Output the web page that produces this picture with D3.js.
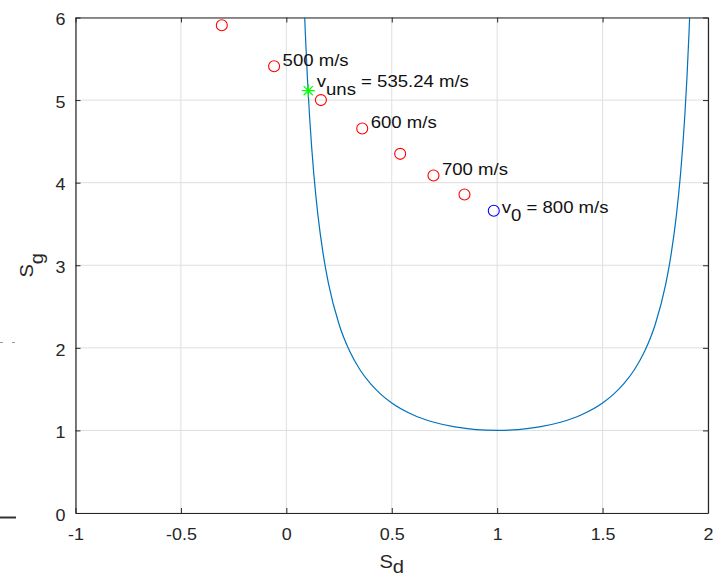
<!DOCTYPE html>
<html>
<head>
<meta charset="utf-8">
<script src="https://cdn.jsdelivr.net/npm/d3@7"></script>
<style>
    body { margin: 0; background: #fff; }
    svg { display: block; font-family: "Liberation Sans", Arial, Helvetica, sans-serif; }
    .tick text { font-size: 16px; fill: #262626; }
    .note { font-size: 16px; fill: #111; }
    .axis-label { font-size: 18px; fill: #262626; }
</style>
</head>
<body>
<svg id="chart"></svg>
<script>
// stability boundary Sg vs Sd, plus the trajectory points

// boundary curve
const curveSd = [0.087, 0.09, 0.10, 0.11, 0.12, 0.13, 0.15, 0.175, 0.20, 0.25, 0.30, 0.35, 0.40, 0.45, 0.50,
    0.60, 0.70, 0.80, 0.90, 1.00, 1.10, 1.20, 1.30, 1.40, 1.50, 1.55, 1.60, 1.65, 1.70, 1.75,
    1.80, 1.825, 1.85, 1.87, 1.88, 1.89, 1.90, 1.91, 1.913]
const curveSg = [6.009, 5.817, 5.263, 4.810, 4.433, 4.113, 3.604, 3.131, 2.778, 2.286, 1.961, 1.732, 1.563, 1.434, 1.333,
    1.190, 1.099, 1.042, 1.010, 1.000, 1.010, 1.042, 1.099, 1.190, 1.333, 1.434, 1.563, 1.732, 1.961, 2.286,
    2.778, 3.131, 3.604, 4.113, 4.433, 4.810, 5.263, 5.817, 6.009]

// red circles (450 ... 750 m/s)
const pointSd = [-0.306, -0.058, 0.164, 0.360, 0.540, 0.698, 0.845]
const pointSg = [5.907, 5.410, 5.000, 4.655, 4.349, 4.087, 3.857]
const pointLabels = ['', '500 m/s', '', '600 m/s', '', '700 m/s', '']

// muzzle velocity point and the unstable velocity point
const v0Sd = [0.984]
const v0Sg = [3.660]
const unsSd = [0.104]
const unsSg = [5.114]

const xTicks = [-1, -0.5, 0, 0.5, 1, 1.5, 2]
const yTicks = [0, 1, 2, 3, 4, 5, 6]

const W = 715
const H = 580
let margin = { top: 17.5, right: 7, bottom: 67, left: 75.5 }
const width = W - margin.left - margin.right
const height = H - margin.top - margin.bottom
const axisColor = '#262626'

let x = d3.scaleLinear().domain([-1, 2]).range([0, width])
let y = d3.scaleLinear().domain([0, 6]).range([height, 0])

// the reference glyphs are a bit wider than Liberation Sans, stretch in place
function widen(sel, k) {
    sel.each(function () {
        let px = +this.getAttribute('x') || 0
        d3.select(this).attr('transform', `translate(${px * (1 - k)},0) scale(${k},1)`)
    })
}

let svg = d3.select('#chart')
    .attr('width', W)
    .attr('height', H)

// leftovers from the neighbouring figure at the left edge
svg.append('line')
    .attr('x1', 0).attr('x2', 16).attr('y1', 517.5).attr('y2', 517.5)
    .style('stroke', '#333').style('stroke-width', 2)
svg.append('line')
    .attr('x1', 0).attr('x2', 16).attr('y1', 342.5).attr('y2', 342.5)
    .style('stroke', '#999').style('stroke-width', 1)
    .style('stroke-dasharray', '3 9')

let g = svg.append('g')
    .attr('transform', `translate(${margin.left},${margin.top})`)

g.append('clipPath')
    .attr('id', 'plot-clip')
    .append('rect')
    .attr('width', width)
    .attr('height', height)

// grid
g.append('g')
    .selectAll('line')
    .data(xTicks)
    .join('line')
    .attr('x1', d => x(d)).attr('x2', d => x(d))
    .attr('y1', 0).attr('y2', height)
    .style('stroke', '#dfdfdf')
g.append('g')
    .selectAll('line')
    .data(yTicks)
    .join('line')
    .attr('x1', 0).attr('x2', width)
    .attr('y1', d => y(d)).attr('y2', d => y(d))
    .style('stroke', '#dfdfdf')

// axes, ticks pointing inwards on all four sides
const fmt = d => d3.format('')(d).replace('\u2212', '-')
let xAxis = g.append('g')
    .attr('transform', `translate(0,${height})`)
    .call(d3.axisBottom(x).tickValues(xTicks).tickFormat(fmt).tickSizeInner(-5).tickSizeOuter(0).tickPadding(16))
let yAxis = g.append('g')
    .call(d3.axisLeft(y).tickValues(yTicks).tickFormat(fmt).tickSizeInner(-5).tickSizeOuter(0).tickPadding(10))
let topAxis = g.append('g')
    .call(d3.axisTop(x).tickValues(xTicks).tickFormat('').tickSizeInner(-5).tickSizeOuter(0))
let rightAxis = g.append('g')
    .attr('transform', `translate(${width},0)`)
    .call(d3.axisRight(y).tickValues(yTicks).tickFormat('').tickSizeInner(-5).tickSizeOuter(0))

g.selectAll('.domain').style('stroke', axisColor).style('stroke-width', 1.2)
g.selectAll('.tick line').style('stroke', axisColor)
xAxis.selectAll('text').attr('dy', '0.71em')
yAxis.selectAll('text').attr('dy', '0.45em')
widen(xAxis.selectAll('text'), 1.12)
widen(yAxis.selectAll('text'), 1.12)

// boundary curve
let line = d3.line()
    .x(d => x(d[0]))
    .y(d => y(d[1]))
    .curve(d3.curveMonotoneX)

g.append('path')
    .datum(d3.zip(curveSd, curveSg))
    .attr('clip-path', 'url(#plot-clip)')
    .attr('d', line)
    .style('fill', 'none')
    .style('stroke', '#0072BD')
    .style('stroke-width', 1.2)

// red circles
g.append('g')
    .selectAll('circle')
    .data(d3.zip(pointSd, pointSg))
    .join('circle')
    .attr('cx', d => x(d[0]))
    .attr('cy', d => y(d[1]))
    .attr('r', 5.5)
    .style('fill', 'none')
    .style('stroke', '#ff0000')
    .style('stroke-width', 1.1)

let notes = g.append('g')
    .selectAll('text')
    .data(d3.zip(pointSd, pointSg, pointLabels).filter(d => d[2] !== ''))
    .join('text')
    .attr('class', 'note')
    .attr('x', d => x(d[0]) + 8.5)
    .attr('y', d => y(d[1]) - 0.5)
    .text(d => d[2])
widen(notes, 1.16)

// blue circle: v0
g.append('circle')
    .attr('cx', x(v0Sd[0]))
    .attr('cy', y(v0Sg[0]))
    .attr('r', 5.5)
    .style('fill', 'none')
    .style('stroke', '#0000ff')
    .style('stroke-width', 1.1)

// green asterisk: v_uns
let star = d3.path()
const a = 6.5
const b = 4.6
star.moveTo(-a, 0); star.lineTo(a, 0)
star.moveTo(0, -a); star.lineTo(0, a)
star.moveTo(-b, -b); star.lineTo(b, b)
star.moveTo(-b, b); star.lineTo(b, -b)

g.append('path')
    .attr('transform', `translate(${x(unsSd[0])},${y(unsSg[0])})`)
    .attr('d', star.toString())
    .style('stroke', '#00ff00')
    .style('stroke-width', 1.2)

function subLabel(px, py, main, sub, rest) {
    let t = g.append('text')
        .attr('class', 'note')
        .attr('x', px)
        .attr('y', py)
    t.append('tspan').text(main)
    t.append('tspan').attr('dy', 8).text(sub)
    t.append('tspan').attr('dy', -8).text(rest)
    widen(t, 1.16)
}

subLabel(x(unsSd[0]) + 8.5, y(unsSg[0]) - 4, 'v', 'uns', ' = 535.24 m/s')
subLabel(x(v0Sd[0]) + 8, y(v0Sg[0]) + 2.5, 'v', '0', ' = 800 m/s')

// axis labels
let xl = svg.append('text')
    .attr('class', 'axis-label')
    .attr('text-anchor', 'middle')
    .attr('x', margin.left + width / 2)
    .attr('y', 568)
xl.append('tspan').text('S')
xl.append('tspan').attr('dy', 5).text('d')
widen(xl, 1.12)

let yl = svg.append('text')
    .attr('class', 'axis-label')
    .attr('text-anchor', 'middle')
    .attr('transform', `translate(33,${margin.top + height / 2}) rotate(-90) scale(1.12,1)`)
yl.append('tspan').text('S')
yl.append('tspan').attr('dy', 10).text('g')
</script>
</body>
</html>
